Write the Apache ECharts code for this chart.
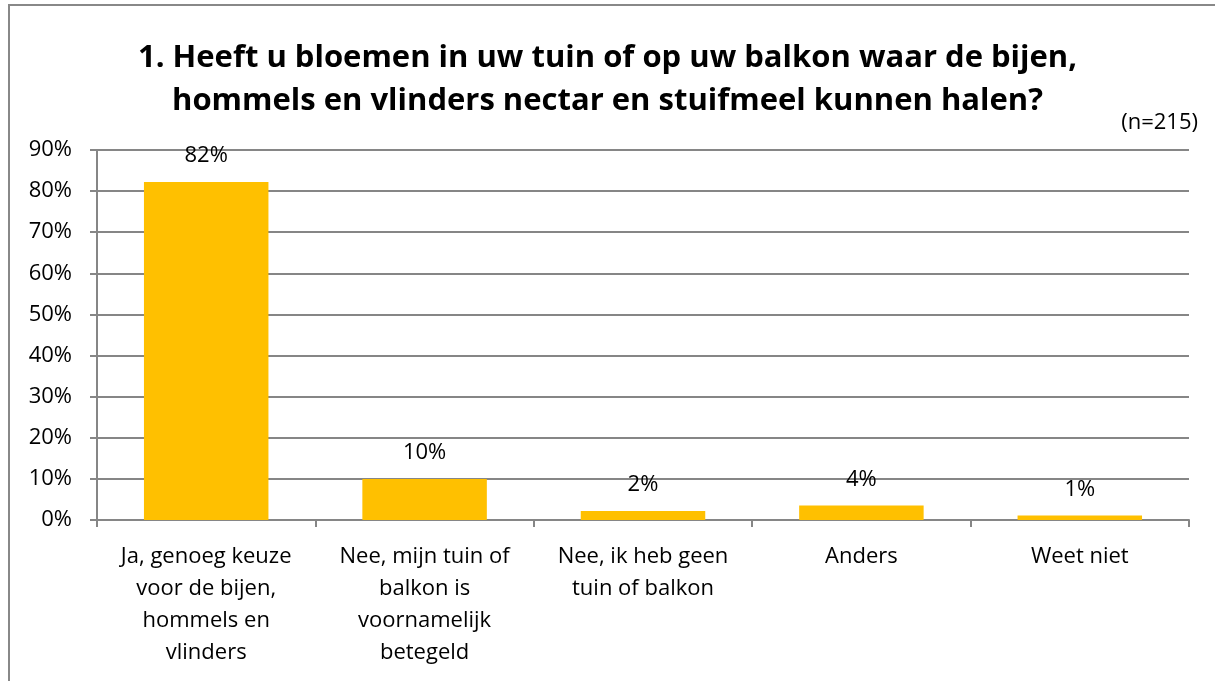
<!DOCTYPE html>
<html>
<head>
<meta charset="utf-8">
<style>
    html, body{
        margin: 0;
        padding: 0;
        background: #fff;
    }
    #chart{
        width: 1215px;
        height: 681px;
    }
</style>
<script src="https://cdn.jsdelivr.net/npm/echarts@6/dist/echarts.min.js"></script>
</head>
<body>
<div id="chart"></div>
<script>
    // categorieen en percentages
    var categories = [
        'Ja, genoeg keuze\nvoor de bijen,\nhommels en\nvlinders',
        'Nee, mijn tuin of\nbalkon is\nvoornamelijk\nbetegeld',
        'Nee, ik heb geen\ntuin of balkon',
        'Anders',
        'Weet niet'
    ];
    var values = [82.2, 10, 2.2, 3.5, 1.1];
    var valueLabels = ['82%', '10%', '2%', '4%', '1%'];
    var yTicks = [0, 10, 20, 30, 40, 50, 60, 70, 80, 90];

    var font = '"Open Sans", Lato, sans-serif';
    var gray = '#868686';

    var mychart = echarts.init(document.getElementById('chart'));
    var option = {
        backgroundColor: '#fff',
        animation: false,
        title: {
            text: '1. Heeft u bloemen in uw tuin of op uw balkon waar de bijen,\nhommels en vlinders nectar en stuifmeel kunnen halen?',
            left: 'center',
            top: 32,
            textStyle: {
                fontFamily: font,
                fontSize: 31,
                fontWeight: 'bold',
                color: '#000',
                lineHeight: 43
            }
        },
        grid: {
            left: 97,
            right: 26,
            top: 150,
            bottom: 161
        },
        xAxis: {
            type: 'category',
            data: categories,
            boundaryGap: true,
            axisLine: {lineStyle: {color: gray, width: 2}},
            axisTick: {show: true, length: 7, lineStyle: {color: gray, width: 2}},
            axisLabel: {
                margin: 21,
                fontFamily: font,
                fontSize: 22,
                color: '#000',
                lineHeight: 32,
                interval: 0
            }
        },
        yAxis: {
            type: 'value',
            min: 0,
            max: 90,
            interval: 10,
            axisLine: {show: true, lineStyle: {color: gray, width: 2}},
            axisTick: {show: true, length: 7, lineStyle: {color: gray, width: 2}},
            splitLine: {lineStyle: {color: gray, width: 2}},
            axisLabel: {
                margin: 25,
                fontFamily: font,
                fontSize: 22,
                color: '#000',
                formatter: function (v) {
                    return yTicks.indexOf(v) >= 0 ? v + '%' : '';
                }
            }
        },
        series: [{
            type: 'bar',
            data: values,
            barCategoryGap: '43%',
            itemStyle: {color: '#FFC000'},
            label: {
                show: true,
                position: 'top',
                distance: 15,
                fontFamily: font,
                fontSize: 22,
                color: '#000',
                formatter: function (p) {
                    return valueLabels[p.dataIndex];
                }
            }
        }],
        graphic: [
            {
                type: 'polyline',
                shape: {points: [[9, 681], [9, 5], [1215, 5]]},
                style: {stroke: '#888', lineWidth: 2, fill: null}
            },
            {
                type: 'text',
                right: 17,
                top: 112,
                style: {
                    text: '(n=215)',
                    fontFamily: font,
                    fontSize: 22,
                    fill: '#000'
                }
            }
        ]
    };
    mychart.setOption(option);
</script>
</body>
</html>
